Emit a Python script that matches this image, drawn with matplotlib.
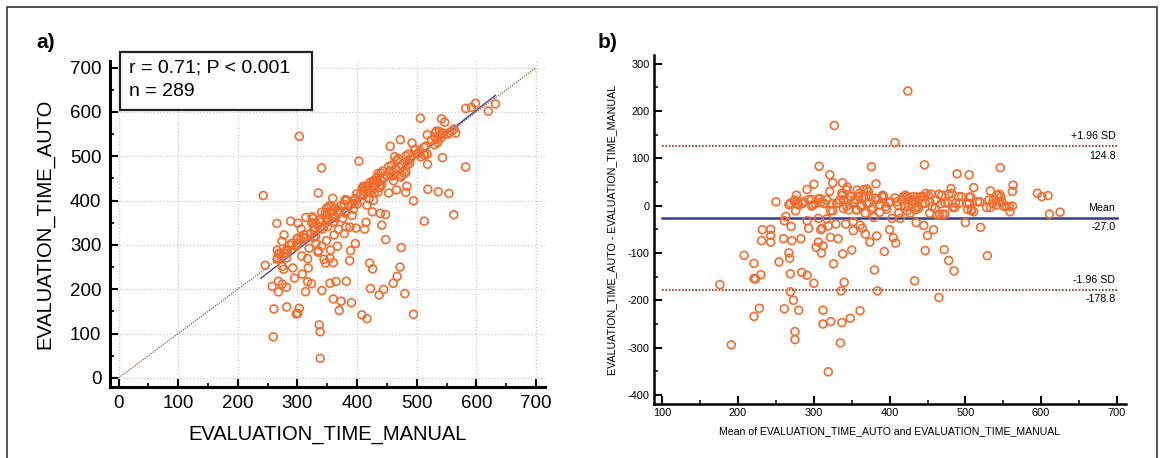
import matplotlib.pyplot as plt
import numpy as np
from matplotlib.lines import Line2D
from matplotlib.patches import Rectangle

plt.rcParams['font.family'] = ['Liberation Sans', 'DejaVu Sans']
plt.rcParams['axes.unicode_minus'] = False

# Bland-Altman coordinates:
# mean of AUTO and MANUAL, and AUTO - MANUAL (seconds)
mean_time = [
    424, 327, 407, 446, 307, 376, 546, 489, 505, 321, 300, 325, 338, 382,
    176, 191, 208, 221, 221, 221, 223, 228, 230, 231, 232, 243, 243, 243,
    250, 254, 260, 261, 261, 263, 267, 267, 268, 269, 269, 270, 271, 273,
    274, 275, 275, 276, 277, 279, 280, 283, 284, 285, 291, 291, 291, 293,
    293, 297, 300, 302, 303, 306, 306, 306, 309, 309, 310, 311, 312, 312,
    312, 314, 317, 319, 319, 321, 322, 322, 322, 324, 326, 329, 330, 332,
    334, 335, 336, 337, 338, 338, 339, 340, 342, 343, 344, 345, 346, 348,
    349, 350, 352, 352, 353, 355, 356, 357, 359, 361, 361, 362, 364, 365,
    366, 368, 368, 370, 372, 373, 374, 378, 379, 380, 383, 384, 385, 387,
    390, 391, 393, 395, 399, 400, 403, 405, 408, 410, 412, 414, 416, 418,
    420, 421, 423, 425, 427, 429, 431, 433, 435, 437, 439, 442, 443, 445,
    447, 448, 450, 451, 453, 456, 458, 461, 463, 465, 465, 468, 470, 472,
    473, 478, 478, 481, 483, 485, 487, 491, 500, 502, 503, 505, 508, 511,
    516, 520, 528, 529, 531, 533, 536, 542, 544, 547, 551, 558, 559, 562,
    563, 595, 601, 609, 611, 625,
    269, 275, 280, 286, 297, 299, 308, 313, 317, 325, 331, 337, 339, 343,
    348, 353, 357, 360, 363, 368, 370, 373, 376, 381, 387, 392, 396, 401,
    407, 411, 416, 423, 425, 431, 436, 434,
    545, 554, 562, 533, 537, 548, 541, 519, 507, 508, 511, 505, 495, 492,
    486, 482, 477, 473, 469, 466, 460, 455, 453, 447, 444, 438, 434,
]
diff_time = [
    242, 169, 133, 86, 83, 82, 80, 67, 65, 65, 45, 48, 48, 46,
    -167, -294, -105, -122, -154, -234, -155, -217, -146, -74, -51, -50, -63, -77,
    8, -119, -70, -218, -32, -23, 2, -100, -111, -144, -182, -44, -74, -200,
    9, -266, -283, -11, 22, 4, -221, -70, -141, 4, 34, -32, -147, 13,
    -48, -1, -164, 4, -88, 14, -27, -77, 7, -51, -100, -48, -85, -221,
    -250, 4, -28, -43, -351, 30, -11, -67, -245, 4, -123, -39, 5, -70,
    12, -290, -180, -247, 22, -102, -6, -162, -39, 33, 39, 12, -9, -238,
    19, -94, -53, -34, 5, 13, -9, 33, 19, -222, -41, -2, -48, 17,
    34, -60, -16, 4, 30, 19, -77, -4, -25, -136, -64, -180, 13, -14,
    19, 22, -97, -2, 6, -51, -27, -68, -79, 8, -16, -27, 12, 19,
    -2, 22, -11, 15, -16, 4, 19, -159, -36, -2, 13, 19, 4, -42,
    -95, 26, -63, 22, -16, -2, -51, 12, -20, -194, 24, 4, -18, -93,
    6, -116, 24, 36, -4, -138, 5, 19, -36, 5, -8, 18, -11, 38,
    8, -46, -4, -106, 12, 31, 4, 22, 8, 18, -2, -2, -13, 30,
    43, 26, 19, 21, -18, -14,
    5, 12, 1, 8, 13, 1, 15, 5, 12, -11, 5, 26, 12, -2,
    19, 8, -9, 26, 1, 19, 35, 6, -8, 16, 1, 19, -8, 8,
    16, 1, 12, 19, -2, 8, 18, -9,
    24, -1, -1, -4, 12, 8, 1, 8, 18, -8, -13, 5, 19, 5,
    -4, 26, 5, -18, 22, -18, -6, 24, 8, 5, 19, -6, 12,
]

bias = -27.0
upper_loa = 124.8
lower_loa = -178.8
fit_slope = 1.05
fit_intercept = -26.0
stats_lines = ["r = 0.71; P < 0.001", "n = 289"]

mean_time = np.array(mean_time, dtype=float)
diff_time = np.array(diff_time, dtype=float)
manual = mean_time - diff_time / 2
auto = mean_time + diff_time / 2

orange = '#f26d2d'
W, H = 1165, 458
fig = plt.figure(figsize=(W / 100, H / 100), dpi=100)

# ---------- panel a: scatter ----------
ax1 = fig.add_axes([109.6 / W, 1 - 386.7 / H, 435.4 / W, 325.7 / H])
ax1.plot([0, 700], [0, 700], color='#a0522d', lw=0.9, ls=(0, (1, 1)), zorder=2)
xf = np.array([manual.min() - 4, manual.max()])
ax1.plot(xf, fit_slope * xf + fit_intercept, color='#3a48a8', lw=1.0, zorder=3)
ax1.scatter(manual, auto, s=32, facecolors='none', edgecolors=orange,
            linewidths=1.2, zorder=4)
ax1.set_xlim(-15, 715)
ax1.set_ylim(-20, 715)
ax1.set_xticks(np.arange(0, 701, 100))
ax1.set_yticks(np.arange(0, 701, 100))
ax1.set_xticks(np.arange(50, 701, 100), minor=True)
ax1.set_yticks(np.arange(50, 701, 100), minor=True)
ax1.grid(True, which='major', color='#c8c8c8', ls=':', lw=0.9)
for s in ['top', 'right']:
    ax1.spines[s].set_visible(False)
for s in ['left', 'bottom']:
    ax1.spines[s].set_linewidth(2.2)
ax1.tick_params(which='major', direction='in', length=6, width=1.5,
                labelsize=13.5, pad=6)
ax1.tick_params(which='minor', direction='in', length=3, width=1.2)
ax1.set_xlabel('EVALUATION_TIME_MANUAL', fontsize=14.5, labelpad=9)
ax1.set_ylabel('EVALUATION_TIME_AUTO', fontsize=14.5, labelpad=11)

# stats box
fig.add_artist(Rectangle((119.6 / W, 1 - 110 / H), 192.4 / W, 58.3 / H,
                         transform=fig.transFigure, facecolor='white',
                         edgecolor='#222222', lw=1.6, zorder=5))
for i, line in enumerate(stats_lines):
    fig.text(129 / W, 1 - (68 + 24 * i) / H, line, fontsize=14,
             va='center', ha='left', zorder=6)

# ---------- panel b: Bland-Altman ----------
ax2 = fig.add_axes([654 / W, 1 - 404 / H, 472 / W, 349 / H])
ax2.scatter(mean_time, diff_time, s=32, facecolors='none', edgecolors=orange,
            linewidths=1.2, zorder=4)
ax2.plot([100, 700], [upper_loa, upper_loa], color='#8b2a1a', lw=1.2,
         ls=(0, (1, 1)), zorder=3)
ax2.plot([100, 700], [lower_loa, lower_loa], color='#8b2a1a', lw=1.2,
         ls=(0, (1, 1)), zorder=3)
ax2.plot([100, 700], [bias, bias], color='#2e3d9c', lw=1.8, zorder=3)

labels = [(upper_loa, '+1.96 SD', '%.1f' % upper_loa),
          (bias, 'Mean', '%.1f' % bias),
          (lower_loa, '-1.96 SD', '%.1f' % lower_loa)]
for val, top, bottom in labels:
    ax2.annotate(top, (698, val), xytext=(0, 7.5), textcoords='offset points',
                 ha='right', va='center', fontsize=7.7)
    ax2.annotate(bottom, (698, val), xytext=(0, -6.5), textcoords='offset points',
                 ha='right', va='center', fontsize=7.7)

ax2.set_xlim(89, 712)
ax2.set_ylim(-419, 318)
ax2.set_xticks(np.arange(100, 701, 100))
ax2.set_yticks(np.arange(-400, 301, 100))
ax2.set_xticks(np.arange(150, 701, 100), minor=True)
ax2.set_yticks(np.arange(-350, 301, 100), minor=True)
for s in ['top', 'right']:
    ax2.spines[s].set_visible(False)
for s in ['left', 'bottom']:
    ax2.spines[s].set_linewidth(1.8)
ax2.tick_params(which='major', direction='in', length=6, width=1.4,
                labelsize=7.9, pad=3)
ax2.tick_params(which='minor', direction='in', length=3, width=1.1)
ax2.set_xlabel('Mean of EVALUATION_TIME_AUTO and EVALUATION_TIME_MANUAL',
               fontsize=7.6, labelpad=6)
ax2.set_ylabel('EVALUATION_TIME_AUTO - EVALUATION_TIME_MANUAL',
               fontsize=7.7, labelpad=8)

# panel letters and outer frame
fig.text(36 / W, 1 - 43 / H, 'a)', fontsize=15, fontweight='bold', va='center')
fig.text(598 / W, 1 - 43 / H, 'b)', fontsize=15, fontweight='bold', va='center')
fig.add_artist(Line2D([7 / W, 7 / W, 1157 / W, 1157 / W],
                      [0, 1 - 7 / H, 1 - 7 / H, 0],
                      transform=fig.transFigure, color='#444444', lw=1.3))

fig.savefig('out.png', dpi=100)
